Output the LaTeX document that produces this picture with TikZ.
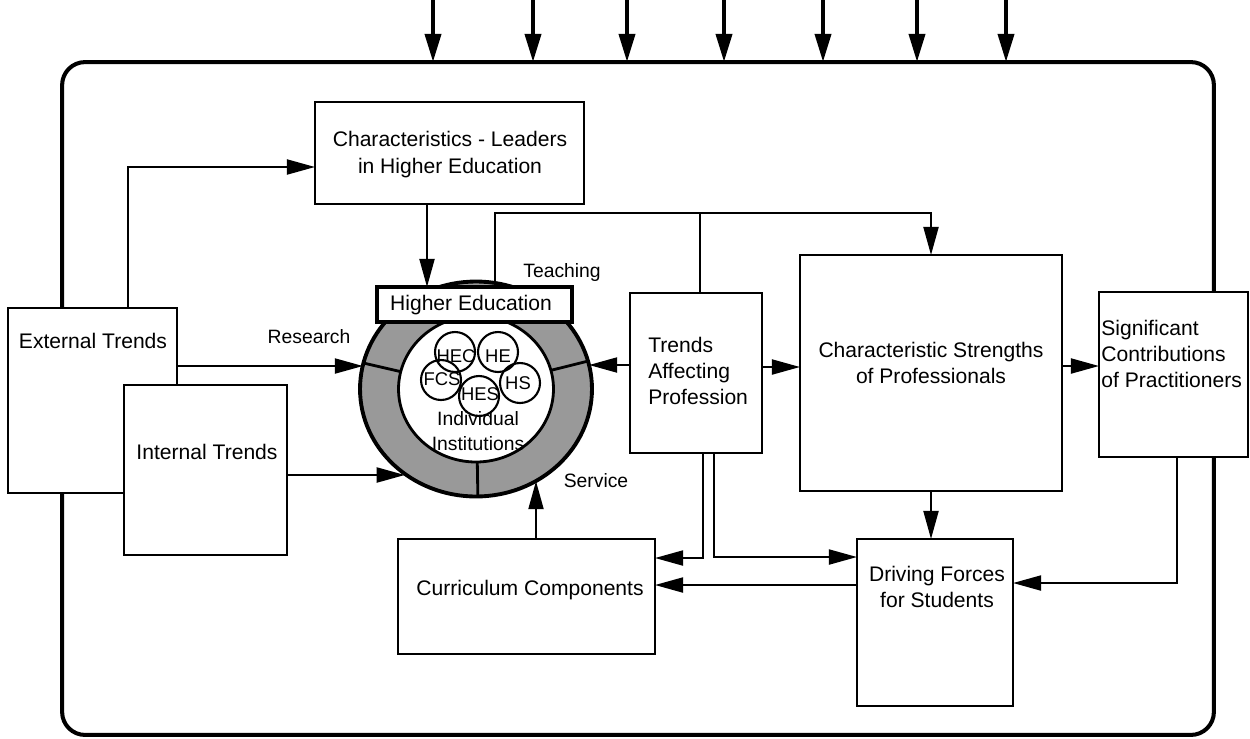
\documentclass[tikz,border=0pt]{standalone}
\usepackage{fontspec}
\setmainfont{Liberation Sans}
\usetikzlibrary{arrows.meta,shapes.geometric,calc}
\begin{document}
\begin{tikzpicture}[x=0.02cm,y=-0.02cm,
  box/.style={draw, line width=1.3pt, fill=white, rectangle, inner sep=0pt, outer sep=0pt},
  txt/.style={font=\fontsize{12pt}{15pt}\selectfont, align=center, inner sep=0pt},
  stxt/.style={font=\fontsize{11pt}{14pt}\selectfont, align=center, inner sep=0pt},
  ln/.style={line width=1.3pt},
  arr/.style={ln, -{Triangle[length=16pt,width=8.5pt]}},
  toparr/.style={line width=2.4pt, -{Triangle[length=16pt,width=9pt]}},
  inst/.style={draw, circle, line width=1.2pt, minimum size=0.8cm, inner sep=0pt, outer sep=0pt},
  itxt/.style={font=\fontsize{10.5pt}{12pt}\selectfont, inner sep=0pt}
]
\useasboundingbox (0,0) rectangle (1250,738);

% outer frame
\node[draw, line width=2.3pt, rounded corners=0.46cm, minimum width=23.04cm, minimum height=13.46cm, inner sep=0pt, outer sep=0pt] (outer) at (638,398.5) {};

% top arrows
\foreach \i/\x in {1/433,2/533,3/627,4/724,5/823,6/917,7/1006}{
  \coordinate (t\i) at (\x,0);
  \draw[toparr] (t\i) -- (t\i |- outer.north);
}

% boxes
\node[box, minimum width=5.38cm, minimum height=2.04cm] (charl) at (449.5,153) {};
\node[txt] (charl-t) at (450,154.5) {Characteristics - Leaders\\in Higher Education};

\node[box, minimum width=3.38cm, minimum height=3.70cm] (ext) at (92.5,400.5) {};
\node[txt] (ext-t) at (93,341) {External Trends};

\node[box, minimum width=3.26cm, minimum height=3.40cm] (int) at (205.5,470) {};
\node[txt] (int-t) at (207,452) {Internal Trends};

\node[box, minimum width=2.64cm, minimum height=3.20cm] (tap) at (696,373) {};
\node[txt, align=left, anchor=west] (tap-t) at (648,371) {Trends\\Affecting\\Profession};

\node[box, minimum width=5.24cm, minimum height=4.72cm] (csp) at (931,373) {};
\node[txt] (csp-t) at (931,363) {Characteristic Strengths\\of Professionals};

\node[box, minimum width=2.98cm, minimum height=3.30cm] (scp) at (1173.5,374.5) {};
\node[txt, align=left, anchor=west] (scp-t) at (1101,354) {Significant\\Contributions\\of Practitioners};

\node[box, minimum width=3.12cm, minimum height=3.34cm] (df) at (935,622.5) {};
\node[txt] (df-t) at (937,587) {Driving Forces\\for Students};

\node[box, minimum width=5.14cm, minimum height=2.30cm] (cc) at (526.5,596.5) {};
\node[txt] (cc-t) at (530,590) {Curriculum Components};

% ring
\node[ellipse, minimum width=4.64cm, minimum height=4.30cm, inner sep=0pt, outer sep=0pt, fill=black!40, draw, line width=2.2pt] (ring) at (476,389) {};
\node[ellipse, minimum width=3.10cm, minimum height=2.92cm, inner sep=0pt, outer sep=0pt, fill=white, draw, line width=1.6pt] (ringin) at (476,389) {};
\foreach \a in {167,14,271}{
  \draw[line width=1.6pt] (ring.\a) -- (ringin.\a);
}

% institutions
\node[inst] (hec) at (455,352) {};
\node[inst] (he2) at (498,352) {};
\node[inst] (fcs) at (441,380) {};
\node[inst] (hs) at (520,383) {};
\node[inst] (hes) at (479,396) {};
\node[itxt] (hec-t) at (456,356) {HEC};
\node[itxt] (he2-t) at (498,356) {HE};
\node[itxt] (fcs-t) at (442,379) {FCS};
\node[itxt] (hes-t) at (480,394) {HES};
\node[itxt] (hs-t) at (518,383) {HS};
\node[stxt] (ind-t) at (478,431) {Individual\\Institutions};

% higher education box
\node[box, line width=2.2pt, minimum width=3.90cm, minimum height=0.70cm] (he) at (474.5,304.5) {};
\node[txt] (he-t) at (471,305) {Higher Education};

% labels
\node[stxt] (research) at (309,337) {Research};
\node[stxt] (teaching) at (562,272) {Teaching};
\node[stxt] (service) at (596,481) {Service};

% connectors
\draw[arr] ([xshift=0.71cm]ext.north) |- ([yshift=-0.28cm]charl.west);
\draw[arr] ([xshift=-0.45cm]charl.south) -- ([xshift=-0.45cm]charl.south |- he.north);
\coordinate (tj) at (700,213);
\draw[ln] ([xshift=0.41cm]he.north) |- (tj);
\draw[ln] (tj) -- (tj |- tap.north);
\draw[arr] (tj) -| (csp.north);

\draw[arr] ([yshift=0.69cm]ext.east) -- ([yshift=0.69cm]ext.east -| ring.168);
\draw[arr] ([yshift=-0.10cm]int.east) -- ([yshift=-0.10cm]int.east -| ring.230);
\draw[arr] ([yshift=0.16cm]tap.west) -- ([yshift=0.16cm]tap.west -| ring.12);
\draw[arr] ([yshift=0.12cm]tap.east) -- ([yshift=0.12cm]tap.east -| csp.west);
\draw[arr] ([yshift=0.14cm]csp.east) -- ([yshift=0.14cm]csp.east -| scp.west);
\draw[arr] (csp.south) -- (csp.south |- df.north);
\draw[arr] ([xshift=0.07cm]scp.south) |- ([yshift=0.79cm]df.east);
\draw[arr] ([yshift=0.75cm]df.west) -- ([yshift=0.75cm]df.west -| cc.east);
\draw[arr] ([xshift=0.14cm]tap.south) |- ([yshift=0.77cm]cc.east);
\draw[arr] ([xshift=0.36cm]tap.south) |- ([yshift=1.31cm]df.west);
\draw[arr] ([xshift=0.19cm]cc.north) -- ([xshift=0.19cm]cc.north |- ring.-57);
\end{tikzpicture}
\end{document}
